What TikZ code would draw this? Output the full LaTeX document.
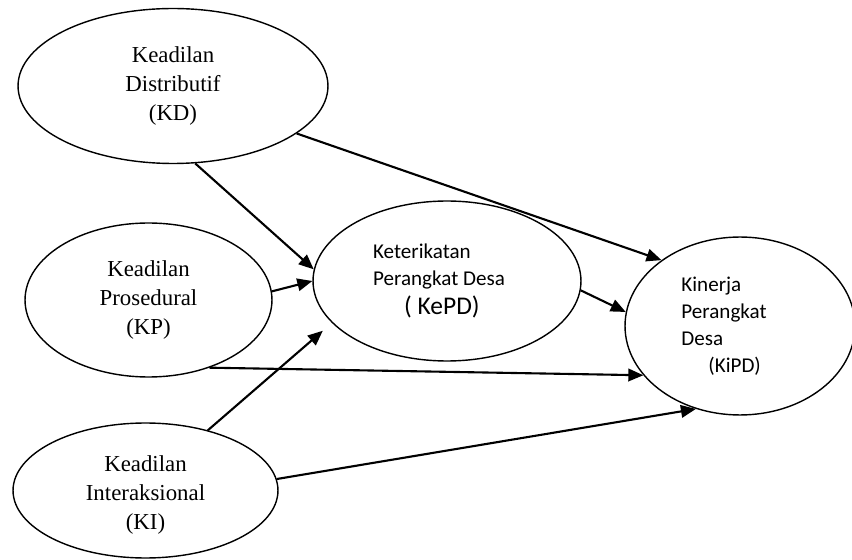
\documentclass[tikz,border=0pt]{standalone}
\usepackage{fontspec}
\setmainfont{Liberation Serif}
\newfontfamily\carlito{Carlito}
\usepackage{tikz}
\usetikzlibrary{shapes.geometric, arrows.meta}
\tikzset{
  var/.style={ellipse, draw=black, line width=0.8pt,
    font=\fontsize{13}{16.5}\selectfont, align=center, inner sep=0pt},
  var/sans/.style={ellipse, draw=black, line width=0.8pt,
    font=\carlito\fontsize{12}{15.4}\selectfont, align=left, inner sep=0pt},
  ar/.style={-{Triangle[length=0.3cm, width=0.25cm]}, draw=black, line width=1.2pt},
}

\begin{document}
\begin{tikzpicture}[x=0.02cm, y=-0.02cm]
  \useasboundingbox (0,0) rectangle (852,560);
  % variabel
  \node[var, minimum width=6.2cm, minimum height=3.1cm] (kd) at (173,86)
    {Keadilan\\Distributif\\(KD)};
  \node[var, minimum width=4.94cm, minimum height=3.08cm] (kp) at (148.5,300)
    {Keadilan\\Prosedural\\(KP)};
  \node[var, minimum width=5.3cm, minimum height=2.7cm] (ki) at (145.5,490.5)
    {\rule{0pt}{14.5pt}Keadilan\\Interaksional\\(KI)};
  \node[var/sans, minimum width=5.36cm, minimum height=3.2cm] (kepd) at (447,281)
    {Keterikatan\\Perangkat Desa\rule{0.32cm}{0pt}\\[1pt]{\fontsize{14.5}{17}\selectfont\hspace*{0.62cm}( KePD)}};
  \node[var/sans, minimum width=4.6cm, minimum height=3.56cm] (kipd) at (740,326)
    {Kinerja\\Perangkat\rule{0.64cm}{0pt}\\Desa\\\hspace*{0.54cm}(KiPD)};
  % hubungan
  \draw[ar] (kd.286) -- (kepd.175);
  \draw[ar] (kd.339) -- (kipd.140);
  \draw[ar] (kp.4) -- (kepd.180);
  \draw[ar] (kepd.356) -- (kipd.173);
  \draw[ar] (kp.312) -- (kipd.207);
  \draw[ar, shorten >=0.24cm] (ki.44) -- (kepd.200);
  \draw[ar] (ki.5) -- (kipd.242);
\end{tikzpicture}
\end{document}
